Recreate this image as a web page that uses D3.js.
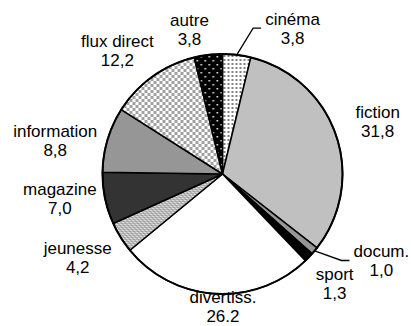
<!DOCTYPE html>
<html>
<head>
<meta charset="utf-8">
<script src="https://cdn.jsdelivr.net/npm/d3@7"></script>
<style>
  body { margin: 0; background: #fff; }
  text { font-family: "Liberation Sans", Arial, sans-serif; font-size: 17px; fill: #000; }
</style>
</head>
<body>
<svg id="chart" width="411" height="326"></svg>
<script>
var categories = ["cinéma", "fiction", "docum.", "sport", "divertiss.", "jeunesse", "magazine", "information", "flux direct", "autre"];
var values = [3.8, 31.8, 1.0, 1.3, 26.2, 4.2, 7.0, 8.8, 12.2, 3.8];
var valueLabels = ["3,8", "31,8", "1,0", "1,3", "26.2", "4,2", "7,0", "8,8", "12,2", "3,8"];

var svg = d3.select("#chart");
var cx = 222.5, cy = 174, radius = 120;

// fills (solid greys and small raster patterns like the original)
var defs = svg.append("defs");

var pFine = defs.append("pattern").attr("id", "pFine")
	.attr("width", 4).attr("height", 4).attr("patternUnits", "userSpaceOnUse");
pFine.append("rect").attr("width", 4).attr("height", 4).attr("fill", "#fff");
pFine.append("rect").attr("x", 1).attr("y", 1).attr("width", 2).attr("height", 2).attr("fill", "#808080");

var pAutre = defs.append("pattern").attr("id", "pAutre")
	.attr("width", 8).attr("height", 8).attr("patternUnits", "userSpaceOnUse");
pAutre.append("rect").attr("width", 8).attr("height", 8).attr("fill", "#000");
pAutre.append("rect").attr("x", 2).attr("y", 2).attr("width", 1.5).attr("height", 1.5).attr("fill", "#fff");
pAutre.append("rect").attr("x", 6).attr("y", 6).attr("width", 1.5).attr("height", 1.5).attr("fill", "#fff");

var pFlux = defs.append("pattern").attr("id", "pFlux")
	.attr("width", 6).attr("height", 6).attr("patternUnits", "userSpaceOnUse");
pFlux.append("rect").attr("width", 6).attr("height", 6).attr("fill", "#fff");
pFlux.append("rect").attr("x", 0).attr("y", 0).attr("width", 3).attr("height", 3).attr("fill", "#a0a0a0");
pFlux.append("rect").attr("x", 3).attr("y", 3).attr("width", 3).attr("height", 3).attr("fill", "#a0a0a0");

var pJeun = defs.append("pattern").attr("id", "pJeun")
	.attr("width", 4).attr("height", 4).attr("patternUnits", "userSpaceOnUse");
pJeun.append("rect").attr("width", 4).attr("height", 4).attr("fill", "#b8b8b8");
pJeun.append("rect").attr("x", 0).attr("y", 0).attr("width", 1).attr("height", 1).attr("fill", "#fff");
pJeun.append("rect").attr("x", 2).attr("y", 2).attr("width", 1).attr("height", 1).attr("fill", "#fff");
pJeun.append("rect").attr("x", 1).attr("y", 3).attr("width", 1).attr("height", 1).attr("fill", "#8a8a8a");
pJeun.append("rect").attr("x", 3).attr("y", 1).attr("width", 1).attr("height", 1).attr("fill", "#8a8a8a");

var fills = d3.scaleOrdinal()
	.domain(categories)
	.range(["url(#pFine)", "#c0c0c0", "#969696", "#000", "#fff", "url(#pJeun)", "#333", "#969696", "url(#pFlux)", "url(#pAutre)"]);

var pie = d3.pie().sort(null).value(function(d) { return d.value; });
var arc = d3.arc().innerRadius(0).outerRadius(radius);
var labelArc = d3.arc().innerRadius(160).outerRadius(160);
var edgeArc = d3.arc().innerRadius(radius).outerRadius(radius);

var data = categories.map(function(c, i) { return {cat: c, value: values[i], label: valueLabels[i]}; });
var arcs = pie(data);

var g = svg.append("g").attr("transform", "translate(" + cx + "," + cy + ")");

g.selectAll("path.slice")
	.data(arcs)
	.enter().append("path")
	.attr("class", "slice")
	.attr("d", arc)
	.attr("fill", function(d) { return fills(d.data.cat); })
	.attr("stroke", "#000")
	.attr("stroke-width", 1.5)
	.attr("stroke-linejoin", "round");

g.append("circle").attr("r", radius).attr("fill", "none").attr("stroke", "#000").attr("stroke-width", 2);

// hand placed label nudges, like the Excel original
var nudge = {
	"cinéma": [51, 15], "fiction": [4, 1], "docum.": [36, -14], "sport": [-3, 0],
	"divertiss.": [10, -26], "jeunesse": [-9, 0], "magazine": [-6, -7],
	"information": [-14, 14], "flux direct": [-12, 8], "autre": [-14, 16]
};

var labels = g.selectAll("g.lab")
	.data(arcs)
	.enter().append("g")
	.attr("class", "lab")
	.attr("transform", function(d) {
		var p = labelArc.centroid(d), n = nudge[d.data.cat];
		return "translate(" + (p[0] + n[0]) + "," + (p[1] + n[1]) + ")";
	});

labels.append("text").attr("text-anchor", "middle").attr("y", -5).text(function(d) { return d.data.cat; });
labels.append("text").attr("text-anchor", "middle").attr("y", 14).text(function(d) { return d.data.label; });

// leader lines for the two labels pushed away from their slices
var leaders = arcs.filter(function(d) { return d.data.cat === "cinéma" || d.data.cat === "docum."; });
g.selectAll("path.leader")
	.data(leaders)
	.enter().append("path")
	.attr("class", "leader")
	.attr("fill", "none")
	.attr("stroke", "#000")
	.attr("stroke-width", 1.3)
	.attr("d", function(d) {
		var s = edgeArc.centroid(d);
		var p = labelArc.centroid(d), n = nudge[d.data.cat];
		var w = d3.select(labels.filter(function(e) { return e === d; }).node()).select("text").node().getComputedTextLength();
		var lx = p[0] + n[0] - w / 2, ly = p[1] + n[1] - 2;
		return d3.line()([s, [lx - 12, ly], [lx - 4, ly]]);
	});
</script>
</body>
</html>
